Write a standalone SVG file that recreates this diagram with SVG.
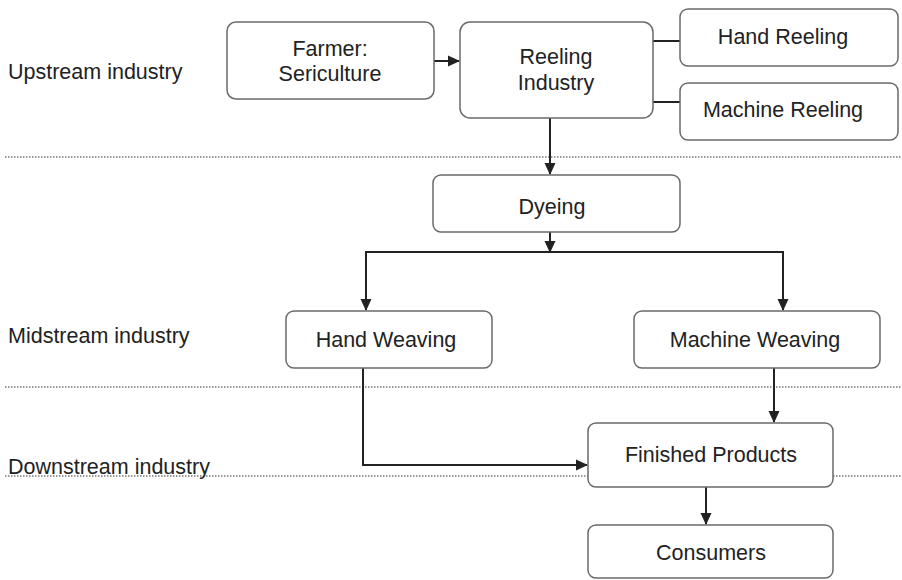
<svg xmlns="http://www.w3.org/2000/svg" width="902" height="580" viewBox="0 0 902 580">
<style>
.box{fill:#fff;stroke:#6a6a6a;stroke-width:1.5}
.t{font-family:"Liberation Sans",Arial,sans-serif;font-size:21.5px;fill:#222;text-anchor:middle}
.lbl{font-family:"Liberation Sans",Arial,sans-serif;font-size:21.5px;fill:#222}
.c{fill:none;stroke:#222;stroke-width:2}
.sep{stroke:#777;stroke-width:1.3;stroke-dasharray:1.5 1.5}
</style>
<defs>
<marker id="ah" markerWidth="12" markerHeight="12" refX="11" refY="6" orient="auto" markerUnits="userSpaceOnUse">
<path d="M0,0.5 L12,6 L0,11.5 Z" fill="#222"/>
</marker>
</defs>
<rect width="902" height="580" fill="#fff"/>
<g id="separators">
<line class="sep" x1="5" y1="157" x2="902" y2="157"/>
<line class="sep" x1="5" y1="387" x2="902" y2="387"/>
<line class="sep" x1="5" y1="476" x2="902" y2="476"/>
</g>
<g id="labels">
<text class="lbl" x="8" y="79">Upstream industry</text>
<text class="lbl" x="8" y="343">Midstream industry</text>
<text class="lbl" x="8" y="474">Downstream industry</text>
</g>
<g id="connectors">
<line class="c" x1="434" y1="61" x2="459" y2="61" marker-end="url(#ah)"/>
<line class="c" x1="653" y1="41" x2="680" y2="41"/>
<line class="c" x1="653" y1="102" x2="680" y2="102"/>
<line class="c" x1="550" y1="118" x2="550" y2="174" marker-end="url(#ah)"/>
<line class="c" x1="550" y1="232" x2="550" y2="252" marker-end="url(#ah)"/>
<polyline class="c" points="366,300 366,252 783,252 783,300"/>
<line class="c" x1="366" y1="252" x2="366" y2="310" marker-end="url(#ah)"/>
<line class="c" x1="783" y1="252" x2="783" y2="310" marker-end="url(#ah)"/>
<polyline class="c" points="363,368 363,465 587,465" marker-end="url(#ah)"/>
<line class="c" x1="774" y1="368" x2="774" y2="422" marker-end="url(#ah)"/>
<line class="c" x1="706" y1="487" x2="706" y2="524" marker-end="url(#ah)"/>
</g>
<g id="farmer"><rect class="box" x="227" y="22" width="207" height="77" rx="9"/><text class="t" x="330" y="56">Farmer:</text><text class="t" x="330" y="81">Sericulture</text></g>
<g id="reeling"><rect class="box" x="460" y="22" width="193" height="96" rx="10"/><text class="t" x="556" y="64">Reeling</text><text class="t" x="556" y="90">Industry</text></g>
<g id="hand-reeling"><rect class="box" x="680" y="9" width="218" height="57" rx="8"/><text class="t" x="783" y="44">Hand Reeling</text></g>
<g id="machine-reeling"><rect class="box" x="680" y="83" width="218" height="57" rx="8"/><text class="t" x="783" y="117">Machine Reeling</text></g>
<g id="dyeing"><rect class="box" x="433" y="175" width="247" height="57" rx="8"/><text class="t" x="552" y="214">Dyeing</text></g>
<g id="hand-weaving"><rect class="box" x="286" y="311" width="206" height="57" rx="8"/><text class="t" x="386" y="347">Hand Weaving</text></g>
<g id="machine-weaving"><rect class="box" x="634" y="311" width="246" height="57" rx="8"/><text class="t" x="755" y="347">Machine Weaving</text></g>
<g id="finished-products"><rect class="box" x="588" y="423" width="245" height="64" rx="8"/><text class="t" x="711" y="462">Finished Products</text></g>
<g id="consumers"><rect class="box" x="588" y="525" width="245" height="53" rx="8"/><text class="t" x="711" y="560">Consumers</text></g>
</svg>
